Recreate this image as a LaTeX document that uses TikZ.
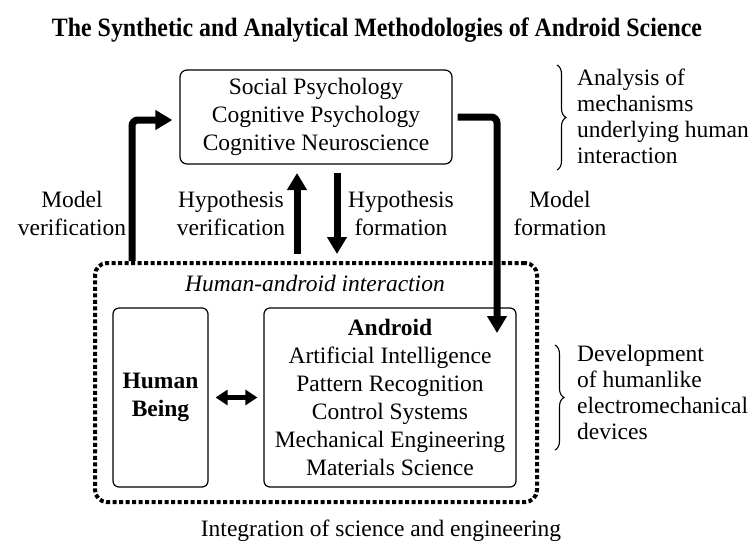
\documentclass[tikz,border=0pt]{standalone}
\usepackage{fontspec}
\setmainfont{Liberation Serif}
\usepackage{graphicx}
\usetikzlibrary{arrows.meta,decorations.pathreplacing}
\newcommand{\bodyfont}{\fontsize{23.5}{28}\selectfont}
\newcommand{\sidefont}{\fontsize{23.5}{26}\selectfont}
\begin{document}
\begin{tikzpicture}[x=1pt,y=-1pt,
  box/.style={draw, line width=1.2pt, rounded corners=7pt, align=center, font=\bodyfont, inner sep=0pt},
  txt/.style={align=center, font=\bodyfont, inner sep=0pt},
  side/.style={align=left, font=\sidefont, inner sep=0pt, anchor=west},
  bigarrow/.style={line width=7pt, -{Triangle[length=17pt,width=19pt]}},
  dblarrow/.style={line width=4.5pt, {Triangle[length=12pt,width=15pt]}-{Triangle[length=12pt,width=15pt]}},
  dotbox/.style={draw, line width=4pt, dash pattern=on 4pt off 2.5pt, rounded corners=12pt, inner sep=0pt},
  bracestyle/.style={decorate, decoration={brace, amplitude=9pt}, line width=1.1pt}
]
\useasboundingbox (0,0) rectangle (754,547);

% title
\node[inner sep=0pt] (title) at (377,30) {\resizebox{650pt}{\height}{\fontsize{26.5}{30}\selectfont\bfseries The Synthetic and Analytical Methodologies of Android Science}};

% top box
\node[box, minimum width=272pt, minimum height=94pt] (top) at (316,117)
  {Social Psychology\\Cognitive Psychology\\Cognitive Neuroscience};

% dotted interaction box
\node[dotbox, minimum width=442pt, minimum height=239pt] (hai) at (316,382.5) {};
\node[txt, font=\bodyfont\itshape] (hailabel) at (315,283) {Human-android interaction};

% human and android boxes
\node[box, rounded corners=6pt, minimum width=95pt, minimum height=179pt, font=\bodyfont\bfseries] (human) at (160.5,397.5) {Human\\Being};
\node[box, rounded corners=6pt, minimum width=252pt, minimum height=179pt] (android) at (390,397.5)
  {\textbf{Android}\\Artificial Intelligence\\Pattern Recognition\\Control Systems\\Mechanical Engineering\\Materials Science};

% connector coordinates
\coordinate (mvstart) at (132,261);
\coordinate (mfend) at (497,333);
\coordinate (hvstart) at (297,254);
\coordinate (hvend) at (297,173);
\coordinate (hfstart) at (337,173);
\coordinate (hfend) at (337,254);

% arrows
\draw[bigarrow, rounded corners=6pt] (mvstart) |- ([xshift=-7pt,yshift=-3pt]top.west);
\draw[bigarrow, rounded corners=6pt] ([xshift=5pt]top.east) -| (mfend);
\draw[bigarrow] (hvstart) -- (hvend);
\draw[bigarrow] (hfstart) -- (hfend);
\draw[dblarrow] ([xshift=7pt]human.east) -- ([xshift=-6pt]android.west);

% arrow labels
\node[txt] (mvlabel) at (72,213) {Model\\verification};
\node[txt] (hvlabel) at (231,213) {Hypothesis\\verification};
\node[txt] (hflabel) at (401,213) {Hypothesis\\formation};
\node[txt] (mflabel) at (560,213) {Model\\formation};

% braces and side labels
\coordinate (b1a) at (557,65);
\coordinate (b1b) at (557,170);
\coordinate (b2a) at (555,345);
\coordinate (b2b) at (555,450);
\draw[bracestyle] (b1a) -- (b1b);
\draw[bracestyle] (b2a) -- (b2b);
\node[side] (analysis) at (577,116) {Analysis of\\mechanisms\\underlying human\\interaction};
\node[side] (develop) at (577,392) {Development\\of humanlike\\electromechanical\\devices};

% bottom caption
\node[txt] (caption) at (381,531) {Integration of science and engineering};
\end{tikzpicture}
\end{document}
